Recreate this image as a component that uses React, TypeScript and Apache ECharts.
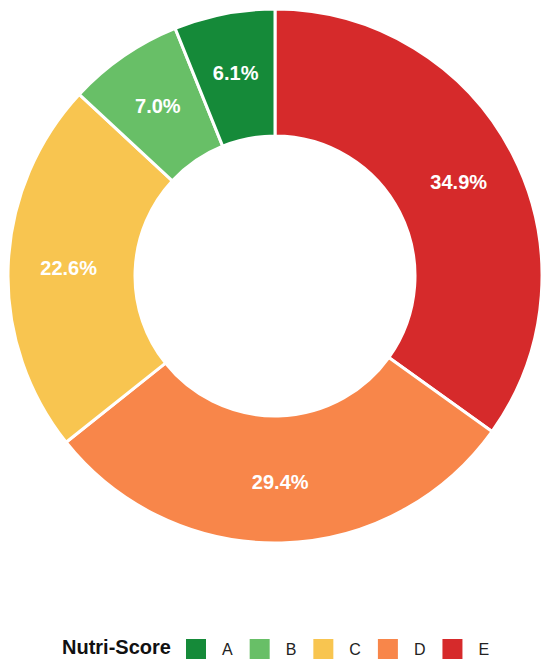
import React, { useEffect, useRef } from "react";
import * as echarts from "echarts";

const categories = ["E", "D", "C", "B", "A"];
const values = [34.9, 29.4, 22.6, 7.0, 6.1];
const colors = ["#d62a2b", "#f8864a", "#f8c550", "#68bf67", "#158a39"];
const legendOrder = ["A", "B", "C", "D", "E"];
const legendTitle = "Nutri-Score";

export default function App() {
  const ref = useRef<HTMLDivElement>(null);
  useEffect(() => {
    document.body.style.margin = "0";
    const chart = echarts.init(ref.current!, null, { renderer: "svg" });
    chart.setOption({
      animation: false,
      textStyle: { fontFamily: "Liberation Sans, Arial, sans-serif" },
      legend: {
        data: legendOrder,
        left: 184,
        top: 637,
        padding: 0,
        itemWidth: 22,
        itemHeight: 22,
        itemGap: 15,
        icon: "rect",
        selectedMode: false,
        textStyle: {
          fontSize: 16,
          color: "#222",
          padding: [0, 0, 0, 10],
          fontFamily: "Liberation Sans, Arial, sans-serif",
        },
      },
      graphic: [
        {
          type: "text",
          left: 62,
          top: 637,
          style: {
            text: legendTitle,
            fontSize: 20,
            fontWeight: "bold",
            fill: "#111",
            fontFamily: "Liberation Sans, Arial, sans-serif",
          },
        },
      ],
      series: [
        {
          type: "pie",
          center: [275, 276],
          radius: [140, 267],
          startAngle: 90,
          clockwise: true,
          avoidLabelOverlap: false,
          itemStyle: { borderColor: "#fff", borderWidth: 3 },
          label: {
            show: true,
            position: "inside",
            color: "#fff",
            fontSize: 20,
            fontWeight: "bold",
            fontFamily: "Liberation Sans, Arial, sans-serif",
            formatter: (p: any) => p.value.toFixed(1) + "%",
          },
          labelLine: { show: false },
          emphasis: { disabled: true },
          data: categories.map((c, i) => ({
            name: c,
            value: values[i],
            itemStyle: { color: colors[i] },
          })),
        },
      ],
    });
    return () => chart.dispose();
  }, []);
  return <div ref={ref} style={{ width: 550, height: 667 }} />;
}
